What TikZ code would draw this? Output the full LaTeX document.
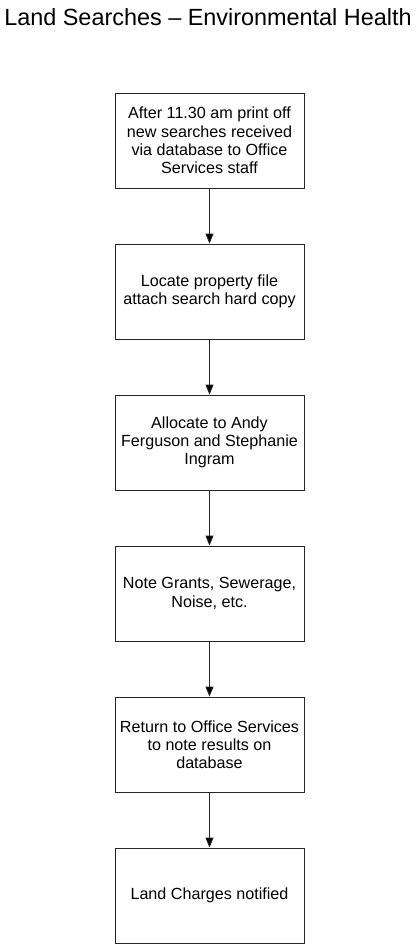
\documentclass[tikz,border=0pt]{standalone}
\usepackage{fontspec}
\setmainfont{Liberation Sans}
\usepackage{tikz}
\usetikzlibrary{arrows.meta}

\begin{document}
\begin{tikzpicture}[x=1bp, y=1bp, node distance=151bp, >={Triangle[width=8bp,length=10bp]},
  task/.style={draw=black!85, line width=0.8bp, rectangle, minimum width=189bp, minimum height=95bp,
    align=center, inner sep=0pt, font=\fontsize{16.2}{18.3}\selectfont},
  title/.style={anchor=base, inner sep=0pt, font=\fontsize{23.5}{28}\selectfont}]

\useasboundingbox (0,0) rectangle (419,-945);

\node[title]  (T) at (208,-25)                    {Land Searches -- Environmental Health};
\node[task]   (P) at (209.5,-140.5)               {After 11.30 am print off\\new searches received\\via database to Office\\Services staff};
\node[task]   (L) [below of=P]                    {Locate property file\\attach search hard copy};
\node[task]   (A) [below of=L]                    {Allocate to Andy\\Ferguson and Stephanie\\Ingram};
\node[task]   (N) [below of=A]                    {Note Grants, Sewerage,\\Noise, etc.};
\node[task]   (R) [below of=N]                    {Return to Office Services\\to note results on\\database};
\node[task]   (C) [below of=R]                    {Land Charges notified};

\path[->, draw=black!85, line width=0.8bp]
      (P) edge (L)
      (L) edge (A)
      (A) edge (N)
      (N) edge (R)
      (R) edge (C);
\end{tikzpicture}
\end{document}
